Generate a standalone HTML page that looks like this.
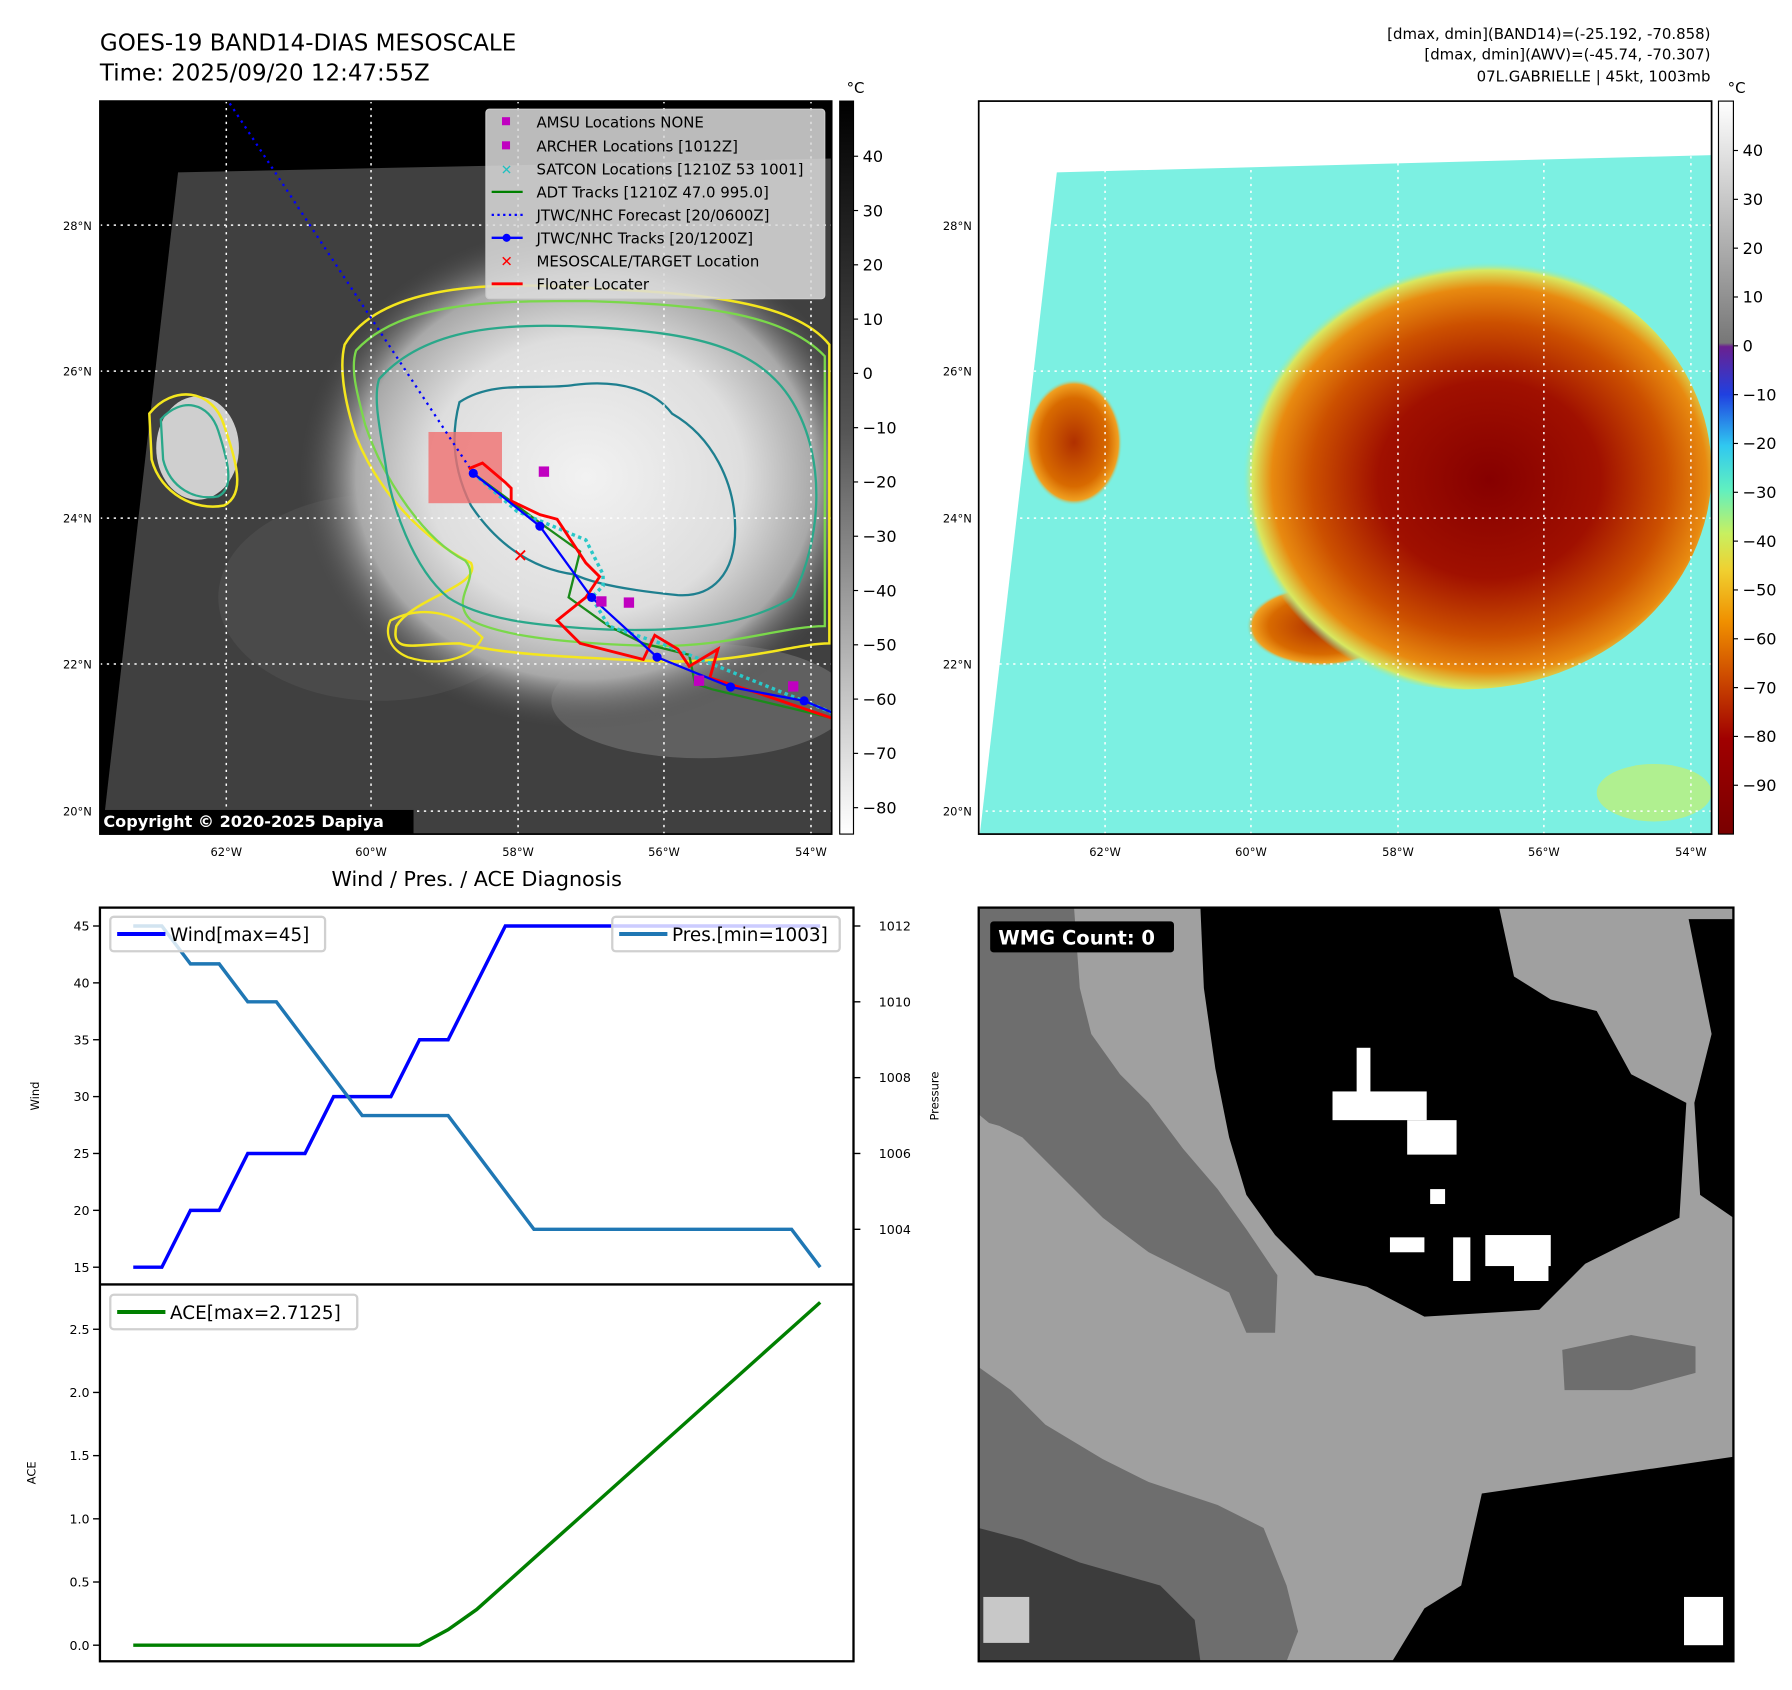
<!DOCTYPE html>
<html><head><meta charset="utf-8"><title>GOES-19 Band14 mesoscale view of 07L Gabrielle</title>
<style>
html,body{margin:0;padding:0;background:#fff;width:1792px;height:1690px;overflow:hidden;}
svg{display:block;font-family:"DejaVu Sans","Liberation Sans",sans-serif;}
</style></head>
<body>
<svg id="fig" width="1792" height="1690" viewBox="0 0 1560 1471" preserveAspectRatio="none" xmlns="http://www.w3.org/2000/svg">
<defs>
  <radialGradient id="stormGray" cx="0.5" cy="0.5" r="0.5">
    <stop offset="0" stop-color="#f2f2f2"/><stop offset="0.55" stop-color="#dedede"/><stop offset="0.8" stop-color="#a8a8a8"/><stop offset="1" stop-color="#4a4a4a" stop-opacity="0"/>
  </radialGradient>
  <radialGradient id="stormColor" cx="0.55" cy="0.52" r="0.5">
    <stop offset="0" stop-color="#860000"/><stop offset="0.45" stop-color="#a01000"/><stop offset="0.72" stop-color="#cc5000"/><stop offset="0.88" stop-color="#e88a10"/><stop offset="0.96" stop-color="#d8e860"/><stop offset="1" stop-color="#70f0e0" stop-opacity="0"/>
  </radialGradient>
  <radialGradient id="blobColor" cx="0.5" cy="0.5" r="0.5">
    <stop offset="0" stop-color="#b03000"/><stop offset="0.7" stop-color="#d86a00"/><stop offset="0.92" stop-color="#f0a020"/><stop offset="1" stop-color="#70f0e0" stop-opacity="0"/>
  </radialGradient>
  <linearGradient id="cbGray" x1="0" y1="0" x2="0" y2="1">
    <stop offset="0" stop-color="#000"/><stop offset="0.45" stop-color="#555"/><stop offset="1" stop-color="#fff"/>
  </linearGradient>
  <linearGradient id="cbColor" x1="0" y1="0" x2="0" y2="1">
    <stop offset="0" stop-color="#fff"/><stop offset="0.33" stop-color="#777"/><stop offset="0.335" stop-color="#6a2090"/><stop offset="0.40" stop-color="#2040e0"/><stop offset="0.47" stop-color="#30c8f0"/><stop offset="0.53" stop-color="#60f0c0"/><stop offset="0.59" stop-color="#c8f060"/><stop offset="0.64" stop-color="#f0d030"/><stop offset="0.71" stop-color="#f09000"/><stop offset="0.78" stop-color="#d05000"/><stop offset="0.87" stop-color="#a00000"/><stop offset="1" stop-color="#7a0000"/>
  </linearGradient>
  <clipPath id="clipL"><rect x="87" y="88" width="637" height="638"/></clipPath>
  <clipPath id="clipR"><rect x="852" y="88" width="638" height="638"/></clipPath>
  <clipPath id="clipB"><rect x="852" y="790" width="657" height="656"/></clipPath>
</defs>

<text x="87" y="44" font-size="20">GOES-19 BAND14-DIAS MESOSCALE</text>
<text x="87" y="70" font-size="20">Time: 2025/09/20 12:47:55Z</text>
<g font-size="13" text-anchor="end">
  <text x="1489" y="34">[dmax, dmin](BAND14)=(-25.192, -70.858)</text>
  <text x="1489" y="52">[dmax, dmin](AWV)=(-45.74, -70.307)</text>
  <text x="1489" y="71">07L.GABRIELLE | 45kt, 1003mb</text>
</g>

<!-- LEFT MAP -->
<g clip-path="url(#clipL)">
  <rect x="87" y="88" width="637" height="638" fill="#000"/>
  <polygon points="155,150 724,138 724,726 89,726" fill="#404040"/>
  <ellipse cx="330" cy="520" rx="140" ry="90" fill="#4a4a4a"/>
  <ellipse cx="610" cy="610" rx="130" ry="50" fill="#606060"/>
  <ellipse cx="510" cy="415" rx="250" ry="220" fill="url(#stormGray)"/>
  <ellipse cx="172" cy="390" rx="36" ry="45" fill="#cfcfcf"/>
  <path d="M300,300 C330,250 420,245 500,250 C600,255 690,260 722,300 L722,560 C690,560 640,580 560,575 C500,572 440,570 400,560 C360,560 340,570 345,545 C360,520 420,510 410,490 C370,470 330,430 310,380 C300,350 295,320 300,300 Z" fill="none" stroke="#f4e61e" stroke-width="2.2"/>
  <path d="M310,305 C350,262 430,262 510,262 C600,265 680,270 718,310 L718,545 C680,545 630,565 560,562 C500,560 440,555 410,540 C390,520 420,505 405,488 C370,470 335,420 318,370 C310,340 305,320 310,305 Z" fill="none" stroke="#7ad84a" stroke-width="2"/>
  <path d="M330,330 C370,285 440,280 520,285 C600,290 660,300 690,350 C720,400 715,470 690,520 C650,545 590,550 530,548 C470,545 420,540 390,520 C360,495 340,440 335,400 C330,370 325,345 330,330 Z" fill="none" stroke="#2aa88a" stroke-width="2"/>
  <path d="M400,350 C430,330 470,340 500,335 C540,330 570,340 585,360 C620,380 640,420 640,460 C640,500 620,520 590,518 C560,515 520,510 500,500 C460,495 430,470 410,440 C395,410 392,380 400,350 Z" fill="none" stroke="#1e7f8f" stroke-width="2"/>
  <path d="M130,360 C150,335 185,338 195,370 C205,400 215,430 195,440 C170,445 140,430 132,400 Z" fill="none" stroke="#f4e61e" stroke-width="2.2"/>
  <path d="M140,365 C158,345 182,350 190,375 C198,400 205,425 190,432 C170,436 148,425 142,400 Z" fill="none" stroke="#2aa88a" stroke-width="2"/>
  <path d="M340,540 C370,525 400,535 420,555 C410,575 380,580 355,572 C338,565 335,550 340,540 Z" fill="none" stroke="#f4e61e" stroke-width="2"/>
  <g stroke="#fff" stroke-width="1.3" stroke-dasharray="2,4">
    <line x1="197" y1="88" x2="197" y2="726"/><line x1="323" y1="88" x2="323" y2="726"/><line x1="451" y1="88" x2="451" y2="726"/><line x1="578" y1="88" x2="578" y2="726"/><line x1="706" y1="88" x2="706" y2="726"/>
    <line x1="87" y1="196" x2="724" y2="196"/><line x1="87" y1="323" x2="724" y2="323"/><line x1="87" y1="451" x2="724" y2="451"/><line x1="87" y1="578" x2="724" y2="578"/><line x1="87" y1="706" x2="724" y2="706"/>
  </g>
  <rect x="373" y="376" width="64" height="62" fill="#f07070" opacity="0.8"/>
  <polyline points="200,90 412,412" fill="none" stroke="#0000ff" stroke-width="2" stroke-dasharray="2,4"/>
  <polyline points="412,412 470,455 505,480 495,520 530,545 560,560 600,570 605,595 620,600 724,625" fill="none" stroke="#1b8a1b" stroke-width="2"/>
  <polyline points="412,412 450,445 510,470 525,500 525,510 515,520 530,545 575,560 600,570 724,620" fill="none" stroke="#2ac8c8" stroke-width="3" stroke-dasharray="3,3"/>
  <polyline points="408,408 420,403 440,420 445,425 445,436 470,448 485,452 510,490 522,502 510,520 485,540 505,560 560,574 570,553 590,565 600,580 625,565 618,590 662,604 724,625" fill="none" stroke="#ff0000" stroke-width="2.5"/>
  <polyline points="412,412 470,458 515,520 572,572 636,598 700,610 724,620" fill="none" stroke="#0000ff" stroke-width="2"/>
  <g fill="#0000ff"><circle cx="412" cy="412" r="4"/><circle cx="470" cy="458" r="4"/><circle cx="515" cy="520" r="4"/><circle cx="572" cy="572" r="4"/><circle cx="636" cy="598" r="4"/><circle cx="700" cy="610" r="4"/></g>
  <g fill="#c000c0"><rect x="469" y="406" width="9" height="9"/><rect x="519" y="519" width="9" height="9"/><rect x="543" y="520" width="9" height="9"/><rect x="604" y="588" width="9" height="9"/><rect x="686" y="593" width="9" height="9"/></g>
  <text x="453" y="489" font-size="16" font-weight="bold" fill="#ff0000" text-anchor="middle">✕</text>
  <g>
    <rect x="423" y="95" width="295" height="165" rx="3" fill="#dcdcdc" fill-opacity="0.85" stroke="#ccc"/>
    <g font-size="13">
      <rect x="437" y="102" width="7" height="7" fill="#c000c0"/><text x="467" y="111">AMSU Locations NONE</text>
      <rect x="437" y="123" width="7" height="7" fill="#c000c0"/><text x="467" y="132">ARCHER Locations [1012Z]</text>
      <text x="441" y="152" fill="#20c0c0" text-anchor="middle" font-weight="bold" font-size="12">✕</text><text x="467" y="152">SATCON Locations [1210Z 53 1001]</text>
      <line x1="428" y1="167" x2="455" y2="167" stroke="#008000" stroke-width="2"/><text x="467" y="172">ADT Tracks [1210Z 47.0 995.0]</text>
      <line x1="428" y1="187" x2="455" y2="187" stroke="#0000ff" stroke-width="2" stroke-dasharray="2,3"/><text x="467" y="192">JTWC/NHC Forecast [20/0600Z]</text>
      <line x1="428" y1="207" x2="455" y2="207" stroke="#0000ff" stroke-width="2"/><circle cx="441" cy="207" r="3.5" fill="#0000ff"/><text x="467" y="212">JTWC/NHC Tracks [20/1200Z]</text>
      <text x="441" y="232" fill="#ff0000" text-anchor="middle" font-weight="bold" font-size="13">✕</text><text x="467" y="232">MESOSCALE/TARGET Location</text>
      <line x1="428" y1="247" x2="455" y2="247" stroke="#ff0000" stroke-width="2.5"/><text x="467" y="252">Floater Locater</text>
    </g>
  </g>
  <rect x="87" y="705" width="273" height="21" fill="#000"/>
  <text x="90" y="720" font-size="14" font-weight="bold" fill="#fff">Copyright © 2020-2025 Dapiya</text>
</g>
<rect x="87" y="88" width="637" height="638" fill="none" stroke="#000" stroke-width="1.5"/>

<!-- RIGHT MAP -->
<g clip-path="url(#clipR)">
  <rect x="852" y="88" width="638" height="638" fill="#fff"/>
  <polygon points="920,150 1490,135 1490,726 853,726" fill="#7cf0e2"/>
  <ellipse cx="1440" cy="690" rx="50" ry="25" fill="#b0f090"/>
  <ellipse cx="1150" cy="545" rx="65" ry="35" fill="url(#blobColor)"/>
  <ellipse cx="1275" cy="410" rx="215" ry="190" fill="url(#stormColor)"/>
  <ellipse cx="935" cy="385" rx="42" ry="55" fill="url(#blobColor)"/>
  <g stroke="#fff" stroke-width="1.3" stroke-dasharray="2,4">
    <line x1="962" y1="88" x2="962" y2="726"/><line x1="1089" y1="88" x2="1089" y2="726"/><line x1="1217" y1="88" x2="1217" y2="726"/><line x1="1344" y1="88" x2="1344" y2="726"/><line x1="1472" y1="88" x2="1472" y2="726"/>
    <line x1="852" y1="196" x2="1490" y2="196"/><line x1="852" y1="323" x2="1490" y2="323"/><line x1="852" y1="451" x2="1490" y2="451"/><line x1="852" y1="578" x2="1490" y2="578"/><line x1="852" y1="706" x2="1490" y2="706"/>
  </g>
</g>
<rect x="852" y="88" width="638" height="638" fill="none" stroke="#000" stroke-width="1.5"/>

<g font-size="10" text-anchor="middle">
  <text x="197" y="745">62°W</text><text x="323" y="745">60°W</text><text x="451" y="745">58°W</text><text x="578" y="745">56°W</text><text x="706" y="745">54°W</text>
  <text x="962" y="745">62°W</text><text x="1089" y="745">60°W</text><text x="1217" y="745">58°W</text><text x="1344" y="745">56°W</text><text x="1472" y="745">54°W</text>
</g>
<g font-size="10" text-anchor="end">
  <text x="80" y="200">28°N</text><text x="80" y="327">26°N</text><text x="80" y="455">24°N</text><text x="80" y="582">22°N</text><text x="80" y="710">20°N</text>
  <text x="846" y="200">28°N</text><text x="846" y="327">26°N</text><text x="846" y="455">24°N</text><text x="846" y="582">22°N</text><text x="846" y="710">20°N</text>
</g>

<g>
  <text x="737" y="81" font-size="13">°C</text>
  <rect x="731" y="88" width="12" height="638" fill="url(#cbGray)" stroke="#000" stroke-width="1"/>
  <g font-size="14" id="cbLticks"></g>
</g>
<g>
  <text x="1504" y="81" font-size="13">°C</text>
  <rect x="1496" y="88" width="13" height="638" fill="url(#cbColor)" stroke="#000" stroke-width="1"/>
  <g font-size="14" id="cbRticks"></g>
</g>

<text x="415" y="771" font-size="18" text-anchor="middle">Wind / Pres. / ACE Diagnosis</text>
<g id="chart"></g>

<g clip-path="url(#clipB)">
  <rect x="852" y="790" width="657" height="656" fill="#a0a0a0"/>
  <polygon points="852,790 935,790 940,860 950,900 975,935 1000,960 1030,1000 1060,1035 1085,1070 1112,1110 1110,1160 1085,1160 1070,1125 1040,1110 1000,1090 960,1060 920,1020 890,990 870,980 852,975" fill="#6e6e6e"/>
  <polygon points="852,970 870,985 870,1010 852,1010" fill="#a0a0a0"/>
  <polygon points="852,1190 880,1210 910,1240 960,1270 1000,1290 1060,1310 1100,1330 1120,1380 1130,1420 1120,1446 852,1446" fill="#6e6e6e"/>
  <polygon points="852,1330 890,1340 940,1360 1010,1380 1040,1410 1045,1446 852,1446" fill="#3c3c3c"/>
  <rect x="856" y="1390" width="40" height="40" fill="#c8c8c8"/>
  <polygon points="1045,790 1305,790 1318,850 1350,870 1390,880 1420,935 1468,960 1462,1060 1420,1080 1380,1100 1340,1140 1240,1146 1190,1120 1145,1110 1110,1075 1085,1040 1070,990 1058,930 1048,860" fill="#000"/>
  <polygon points="1470,800 1509,800 1509,1060 1480,1040 1475,960 1490,900" fill="#000"/>
  <polygon points="1290,1300 1509,1268 1509,1446 1212,1446 1240,1400 1272,1380" fill="#000"/>
  <polygon points="1360,1175 1420,1162 1476,1172 1476,1195 1420,1210 1362,1210" fill="#6e6e6e"/>
  <g fill="#fff">
    <rect x="1181" y="912" width="12" height="45"/><rect x="1160" y="950" width="82" height="25"/><rect x="1225" y="975" width="43" height="30"/>
    <rect x="1245" y="1035" width="13" height="13"/><rect x="1210" y="1077" width="30" height="13"/><rect x="1265" y="1077" width="15" height="38"/>
    <rect x="1293" y="1075" width="57" height="27"/><rect x="1318" y="1095" width="30" height="20"/><rect x="1466" y="1390" width="34" height="42"/>
  </g>
  <rect x="862" y="802" width="160" height="27" rx="3" fill="#000"/>
  <text x="869" y="822" font-size="17" font-weight="bold" fill="#fff">WMG Count: 0</text>
</g>
<rect x="852" y="790" width="657" height="656" fill="none" stroke="#000" stroke-width="2"/>

<script>
const windValues = [15,15,20,20,25,25,25,30,30,30,35,35,40,45,45,45,45,45,45,45,45,45,45,45,45];
const presValues = [1012,1012,1011,1011,1010,1010,1009,1008,1007,1007,1007,1007,1006,1005,1004,1004,1004,1004,1004,1004,1004,1004,1004,1004,1003];
const aceValues = [0,0,0,0,0,0,0,0,0,0,0,0.1225,0.2825,0.485,0.6875,0.89,1.0925,1.295,1.4975,1.7,1.9025,2.105,2.3075,2.51,2.7125];
const windTicks = [15,20,25,30,35,40,45];
const presTicks = [1004,1006,1008,1010,1012];
const aceTicks = [0.0,0.5,1.0,1.5,2.0,2.5];
const cbGrayTicks = [40,30,20,10,0,-10,-20,-30,-40,-50,-60,-70,-80];
const cbColorTicks = [40,30,20,10,0,-10,-20,-30,-40,-50,-60,-70,-80,-90];

const NS = 'http://www.w3.org/2000/svg';
function mk(tag, attrs, parent){ const e=document.createElementNS(NS,tag); for(const k in attrs) e.setAttribute(k,attrs[k]); parent.appendChild(e); return e; }

const xL=87, xR=743, yTop=790, yMid=1118, yBot=1446;
const xS = i => 116 + i*(598/(windValues.length-1));
const yWind = v => 806 + (45-v)*(1103-806)/30;
const yPres = v => 806 + (1012-v)*33;
const yAce = v => 1432 - v*110;
const cbGrayY = v => 136 + (40-v)*4.725;
const cbColorY = v => 131 + (40-v)*4.25;

const chart = document.getElementById('chart');
mk('rect',{x:xL,y:yTop,width:xR-xL,height:yBot-yTop,fill:'#fff'},chart);

function line(vals, yf, color, w, name){
  const pts = vals.map((v,i)=>xS(i).toFixed(1)+','+yf(v).toFixed(1)).join(' ');
  const p = mk('polyline',{points:pts,fill:'none',stroke:color,'stroke-width':w},chart);
  
  
}
line(windValues, yWind, '#0000ff', 3, 'wind-line');
line(presValues, yPres, '#1f77b4', 3, 'pressure-line');
line(aceValues, yAce, '#008000', 3, 'ace-line');

mk('rect',{x:xL,y:yTop,width:xR-xL,height:yBot-yTop,fill:'none',stroke:'#000','stroke-width':2},chart);
mk('line',{x1:xL,y1:yMid,x2:xR,y2:yMid,stroke:'#000','stroke-width':2},chart);

function ticks(arr, yf, side, fmt){
  arr.forEach(v=>{
    const y=yf(v);
    if(side==='left'){
      mk('line',{x1:xL-6,y1:y,x2:xL,y2:y,stroke:'#000','stroke-width':1.2},chart);
      const t=mk('text',{x:xL-9,y:y+4,'font-size':11,'text-anchor':'end'},chart); t.textContent=fmt(v);
      
      
    } else {
      mk('line',{x1:xR,y1:y,x2:xR+6,y2:y,stroke:'#000','stroke-width':1.2},chart);
      const t=mk('text',{x:xR+22,y:y+4,'font-size':11},chart); t.textContent=fmt(v);
      
      
    }
  });
}
ticks(windTicks, yWind, 'left', v=>String(v));
ticks(presTicks, yPres, 'right', v=>String(v));
ticks(aceTicks, yAce, 'left', v=>v.toFixed(1));

function vlabel(x,y,txt,name){
  const t=mk('text',{x:x,y:y,'font-size':10,'text-anchor':'middle',transform:'rotate(-90 '+x+' '+y+')'},chart);
  t.textContent=txt;
  
  
}
vlabel(34,954,'Wind','wind-axis-title');
vlabel(817,954,'Pressure','pressure-axis-title');
vlabel(31,1282,'ACE','ace-axis-title');

function legend(x,y,w,color,txt,name){
  const g=mk('g',{},chart);
  
  
  mk('rect',{x:x,y:y,width:w,height:30,rx:3,fill:'#fff','fill-opacity':0.8,stroke:'#d0d0d0','stroke-width':2},g);
  mk('line',{x1:x+6,y1:y+15,x2:x+48,y2:y+15,stroke:color,'stroke-width':3.5},g);
  const t=mk('text',{x:x+52,y:y+21,'font-size':16},g); t.textContent=txt;
}
legend(96,798,187,'#0000ff','Wind[max=45]','wind-legend');
legend(533,798,198,'#1f77b4','Pres.[min=1003]','pressure-legend');
legend(96,1127,215,'#008000','ACE[max=2.7125]','ace-legend');

function cbTicks(id, arr, yf, x){
  const g=document.getElementById(id);
  arr.forEach(v=>{
    const y=yf(v);
    mk('line',{x1:x,y1:y,x2:x+4,y2:y,stroke:'#000','stroke-width':1},g);
    const t=mk('text',{x:x+8,y:y+5},g); t.textContent=(v<0?'\u2212'+(-v):String(v));
    
    
  });
}
cbTicks('cbLticks', cbGrayTicks, cbGrayY, 743);
cbTicks('cbRticks', cbColorTicks, cbColorY, 1509);
</script>
</svg>
</body></html>
